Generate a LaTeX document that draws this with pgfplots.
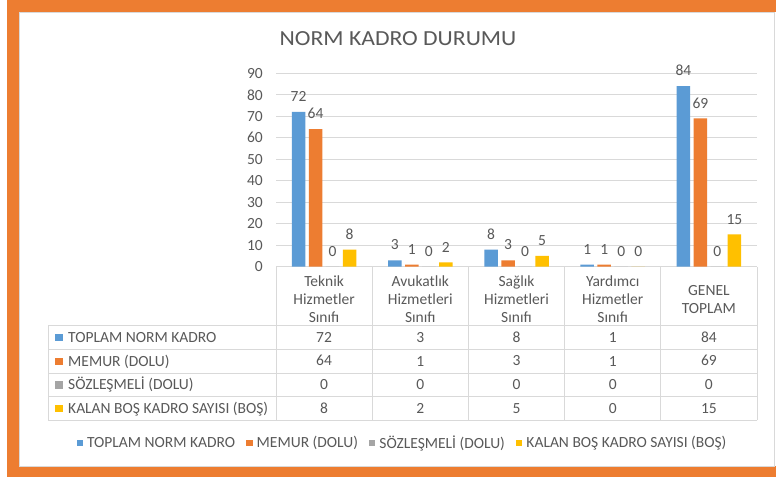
\documentclass[border=0pt]{standalone}
\usepackage{fontspec}
\setmainfont{Carlito}
\newfontfamily\tabfont{Carlito}
\newfontfamily\titlefont{Carlito}[FakeStretch=1.1]
\usepackage{pgfplots}
\usepackage{pgfplotstable}
\pgfplotsset{compat=1.18}
\pgfplotsset{/pgf/number format/assume math mode=true}
\definecolor{cblue}{HTML}{5B9BD5}
\definecolor{corange}{HTML}{ED7D31}
\definecolor{cgray}{HTML}{A5A5A5}
\definecolor{cyellow}{HTML}{FFC000}
\definecolor{txt}{HTML}{595959}
\definecolor{gridc}{HTML}{D9D9D9}
\newcommand\cf{\fontsize{15.5}{18}\selectfont}
\newcommand\tf{\tabfont\fontsize{15.5}{18}\selectfont}

\pgfplotstableread{
x toplam memur soz kalan
0 72 64 0 8
1 3 1 0 2
2 8 3 0 5
3 1 1 0 0
4 84 69 0 15
}\data

\begin{document}
\begin{tikzpicture}[x=1pt,y=1pt]
\useasboundingbox (0,0) rectangle (776,477);
\fill[white] (0,0) rectangle (776,477);
\fill[corange] (7,0) rectangle (776,477);
\fill[white] (19.5,11) rectangle (776,465);
\draw[gridc, line width=0.8pt] (19.5,11) rectangle (774.5,465);
\node[font=\titlefont\fontsize{21.5}{24}\selectfont, text=txt, anchor=base, inner sep=0pt] at (398,431) {NORM KADRO DURUMU};

% table grid
\begin{scope}[gridc, line width=0.8pt]
\draw (276,210.3) -- (757,210.3);
\foreach \yy in {151.3,127.7,103.7,80.3,56.7} {\draw (48,\yy) -- (757,\yy);}
\draw (48,56.7) -- (48,151.3);
\foreach \xx in {276,372.2,468.4,564.6,660.8,757} {\draw (\xx,56.7) -- (\xx,210.3);}
\end{scope}

% row headers
\fill[cblue] (55,135.75) rectangle (62.5,143.25);
\fill[corange] (55,111.95) rectangle (62.5,119.45);
\fill[cgray] (55,88.25) rectangle (62.5,95.75);
\fill[cyellow] (55,64.75) rectangle (62.5,72.25);
\node[font=\tf, text=txt, anchor=base west, inner sep=0pt] at (68,134.6) {TOPLAM NORM KADRO};
\node[font=\tf, text=txt, anchor=base west, inner sep=0pt] at (68,110.8) {MEMUR (DOLU)};
\node[font=\tf, text=txt, anchor=base west, inner sep=0pt] at (68,87.1) {SÖZLEŞMELİ (DOLU)};
\node[font=\tf, text=txt, anchor=base west, inner sep=0pt] at (68,63.6) {KALAN BOŞ KADRO SAYISI (BOŞ)};

\begin{axis}[
  at={(276pt,210.3pt)}, anchor=south west,
  scale only axis, width=481pt, height=193.4pt,
  xmin=-0.5, xmax=4.5, ymin=0, ymax=90,
  ybar=3.5pt, bar width=13.5pt,
  ytick={0,10,...,90},
  xtick=data,
  xticklabels={{Teknik\\Hizmetler\\Sınıfı},{Avukatlık\\Hizmetleri\\Sınıfı},{Sağlık\\Hizmetleri\\Sınıfı},{Yardımcı\\Hizmetler\\Sınıfı},{GENEL\\TOPLAM}},
  axis line style={draw=none}, tick style={draw=none},
  ymajorgrids, major grid style={draw=gridc, line width=0.8pt},
  yticklabel style={font=\cf, text=txt, anchor=east, inner sep=0pt, xshift=-13pt},
  xticklabel style={font=\tf, text=txt, anchor=center, align=center, inner sep=0pt, yshift=-28.3pt},
  nodes near coords,
  every node near coord/.append style={font=\cf, text=txt, yshift=10.1pt, inner sep=0pt},
  legend style={at={(0.262,-0.9116)}, anchor=center, legend columns=-1, draw=none, fill=none,
    font=\cf, text=txt, nodes={inner sep=1pt},
    /tikz/every odd column/.append style={column sep=3pt},
    /tikz/every even column/.append style={column sep=10pt}},
  legend image code/.code={\fill[#1] (0pt,-3.25pt) rectangle (6.5pt,3.25pt);},
  clip=false,
]
\addplot[fill=cblue, draw=none] table[x=x, y=toplam]{\data};
\addlegendentry{TOPLAM NORM KADRO}
\addplot[fill=corange, draw=none] table[x=x, y=memur]{\data};
\addlegendentry{MEMUR (DOLU)}
\addplot[fill=cgray, draw=none] table[x=x, y=soz]{\data};
\addlegendentry{SÖZLEŞMELİ (DOLU)}
\addplot[fill=cyellow, draw=none] table[x=x, y=kalan]{\data};
\addlegendentry{KALAN BOŞ KADRO SAYISI (BOŞ)}
\end{axis}

\begin{axis}[
  at={(276pt,0pt)}, anchor=south west,
  scale only axis, width=481pt, height=477pt,
  xmin=-0.5, xmax=4.5, ymin=0, ymax=477,
  hide axis, clip=false,
  every node near coord/.append style={font=\tf, text=txt, inner sep=0pt},
]
\addplot[only marks, mark=none, nodes near coords, point meta=explicit] table[x=x, y expr=134.6, meta=toplam]{\data};
\addplot[only marks, mark=none, nodes near coords, point meta=explicit] table[x=x, y expr=110.8, meta=memur]{\data};
\addplot[only marks, mark=none, nodes near coords, point meta=explicit] table[x=x, y expr=87.1, meta=soz]{\data};
\addplot[only marks, mark=none, nodes near coords, point meta=explicit] table[x=x, y expr=63.6, meta=kalan]{\data};
\end{axis}
\end{tikzpicture}
\end{document}
